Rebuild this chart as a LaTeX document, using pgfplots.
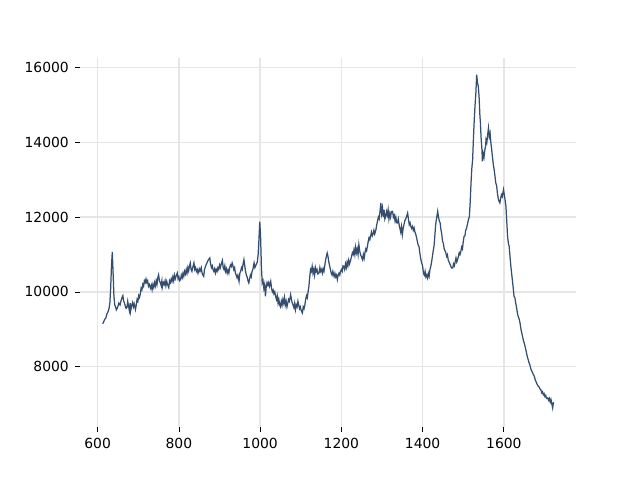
\documentclass[border=0pt]{standalone}
\usepackage{pgfplots}
\pgfplotsset{compat=1.18}
\usepackage{fontspec}
\setmainfont{DejaVu Sans}
\definecolor{linec}{HTML}{344E70}
\definecolor{gridc}{HTML}{E6E6E6}
\begin{document}
\begin{tikzpicture}
\path[use as bounding box] (0,0) rectangle (460.8pt,345.6pt);
\begin{axis}[
  at={(57.6pt,38.02pt)}, anchor=south west,
  scale only axis, width=357.12pt, height=266.1pt,
  xmin=556.5, xmax=1777.5, ymin=6380, ymax=16270,
  xtick={600,800,...,1600}, ytick={8000,10000,...,16000},
  scaled ticks=false,
  axis line style={draw=none},
  tick align=outside, xtick pos=bottom, ytick pos=left,
  major tick length=3.5pt,
  tick style={black, line width=0.6pt},
  grid=major, major grid style={gridc, line width=1pt},
  ticklabel style={font=\fontsize{10}{12}\selectfont},
  /pgf/number format/1000 sep={},
  /pgf/number format/assume math mode=true,
  xticklabel style={yshift=-1pt}, yticklabel style={xshift=-1pt},
]
\addplot[linec, line width=0.9pt, mark=none] coordinates {
(612,9150)(614,9180)(617,9260)(620,9300)(623,9420)(626,9480)(628,9560)(630,9700)(632,10100)(634,10700)(636,11070)(638,10500)(640,9900)(642,9650)(644,9600)(646,9520)(648,9560)(650,9620)(652,9700)(655,9650)(658,9780)(660,9850)(662,9900)(664,9760)(666,9700)(668,9620)(670,9560)(672,9580)(674,9750)(676,9620)(678,9500)(680,9700)(681,9480)(684,9650)(686,9720)(688,9600)(690,9680)(693,9530)(695,9650)(697,9800)(699,9750)
(701,9900)(703,9850)(705,9950)(707,10100)(709,10060)(711,10200)(713,10150)(715,10300)(717,10250)(719,10345)(721,10250)(723,10300)(725,10150)(727,10200)(730,10100)(732,10180)(734,10060)(736,10200)(738,10120)(740,10250)(742,10160)(744,10300)(746,10200)(748,10380)(750,10460)(752,10300)(754,10250)(756,10180)(758,10300)(759,10115)(762,10250)(764,10200)(766,10300)(768,10160)(770,10280)(772,10200)(775,10115)(777,10300)(779,10250)(781,10350)(783,10280)(785,10400)(787,10300)(789,10450)(791,10350)(793,10420)(796,10507)(798,10350)
(800,10400)(802,10300)(804,10330)(806,10450)(808,10380)(810,10500)(812,10416)(814,10550)(816,10480)(818,10600)(820,10500)(822,10650)(824,10560)(826,10700)(828,10775)(830,10600)(832,10550)(834,10650)(837,10775)(839,10600)(841,10650)(843,10550)(845,10600)(847,10500)(850,10620)(852,10550)(855,10650)(857,10500)(859,10450)(861,10416)(863,10600)(866,10700)(868,10750)(870,10800)(872,10850)(874,10880)(876,10910)(878,10750)(880,10650)(882,10700)(884,10600)(886,10550)(888,10620)(890,10507)(892,10600)(894,10550)(896,10650)(898,10600)
(900,10720)(902,10650)(905,10780)(907,10845)(909,10650)(911,10600)(913,10700)(915,10550)(917,10620)(919,10500)(921,10580)(923,10507)(925,10650)(927,10720)(929,10680)(931,10775)(933,10700)(935,10600)(937,10650)(939,10500)(941,10450)(943,10380)(945,10450)(948,10283)(950,10500)(952,10550)(954,10650)(956,10600)(958,10750)(960,10863)(962,10700)(964,10550)(966,10450)(968,10400)(970,10300)(972,10240)(974,10350)(976,10450)(978,10400)(980,10550)(982,10600)(985,10775)(987,10650)(989,10700)(991,10750)(993,10800)(995,11000)(997,11400)(999,11880)
(1001,11500)(1003,10700)(1005,10240)(1007,10300)(1009,10100)(1011,10200)(1013,9880)(1015,10150)(1017,10250)(1019,10180)(1021,10250)(1023,10150)(1026,10283)(1028,10100)(1030,10000)(1032,10050)(1034,9950)(1036,10000)(1038,9880)(1040,9800)(1042,9900)(1044,9700)(1046,9800)(1048,9650)(1050,9600)(1052,9750)(1054,9650)(1056,9800)(1058,9700)(1060,9850)(1062,9650)(1064,9750)(1066,9600)(1068,9700)(1070,9800)(1072,9750)(1075,9927)(1077,9800)(1079,9700)(1081,9650)(1083,9580)(1085,9700)(1087,9525)(1089,9650)(1091,9600)(1093,9750)(1095,9650)(1097,9550)(1099,9600)
(1101,9500)(1104,9437)(1106,9600)(1108,9550)(1110,9650)(1112,9800)(1114,9900)(1116,9840)(1118,10000)(1120,10150)(1122,10400)(1124,10600)(1126,10550)(1128,10684)(1130,10500)(1132,10600)(1134,10450)(1136,10650)(1138,10550)(1140,10600)(1142,10480)(1145,10507)(1147,10650)(1149,10550)(1151,10600)(1153,10500)(1155,10620)(1157,10550)(1159,10700)(1161,10850)(1163,10950)(1165,11043)(1167,10950)(1169,10800)(1171,10700)(1173,10600)(1175,10500)(1177,10450)(1179,10550)(1182,10416)(1184,10500)(1186,10400)(1188,10450)(1190,10330)(1192,10450)(1194,10500)(1196,10450)(1198,10550)
(1200,10600)(1202,10550)(1204,10700)(1206,10684)(1208,10600)(1210,10750)(1212,10650)(1214,10800)(1216,10700)(1218,10850)(1220,10750)(1223,10863)(1225,10950)(1227,11050)(1229,11000)(1231,11130)(1233,11000)(1235,11200)(1237,11050)(1239,11150)(1241,11000)(1243,11265)(1245,11100)(1247,11000)(1249,10950)(1252,10863)(1254,11000)(1256,10900)(1258,11050)(1260,11150)(1262,11100)(1264,11220)(1266,11350)(1268,11450)(1270,11400)(1272,11500)(1274,11600)(1276,11500)(1278,11550)(1280,11650)(1282,11550)(1285,11666)(1287,11800)(1289,11900)(1291,12000)(1293,11950)(1295,12150)(1297,12380)(1299,12100)
(1301,12250)(1303,12000)(1305,12200)(1307,11950)(1309,12022)(1311,12150)(1313,12050)(1315,12200)(1317,11950)(1319,12100)(1321,12000)(1323,12150)(1326,12156)(1328,12000)(1330,12050)(1332,11900)(1334,12000)(1336,11850)(1338,11845)(1340,11950)(1342,11800)(1344,11700)(1346,11600)(1348,11750)(1350,11532)(1352,11700)(1354,11800)(1356,11900)(1358,11950)(1360,12000)(1363,12112)(1365,11950)(1367,11800)(1369,11850)(1371,11750)(1373,11700)(1375,11750)(1377,11650)(1379,11711)(1381,11600)(1383,11550)(1385,11450)(1387,11350)(1389,11250)(1391,11220)(1393,11050)(1395,10900)(1397,10800)
(1400,10684)(1402,10500)(1404,10450)(1406,10550)(1408,10400)(1410,10450)(1412,10373)(1414,10500)(1416,10420)(1418,10600)(1420,10684)(1422,10800)(1424,10950)(1426,11100)(1428,11220)(1430,11500)(1432,11800)(1434,11950)(1437,12156)(1439,12000)(1441,11900)(1443,11850)(1445,11666)(1447,11550)(1449,11353)(1451,11300)(1453,11150)(1455,11100)(1457,11050)(1459,10950)(1461,10997)(1463,10850)(1465,10800)(1467,10750)(1469,10700)(1471,10640)(1474,10640)(1476,10750)(1478,10700)(1480,10800)(1482,10908)(1484,10800)(1486,10863)(1488,10950)(1490,11050)(1492,11000)(1494,11085)(1496,11200)(1498,11150)
(1500,11350)(1502,11487)(1504,11500)(1506,11650)(1508,11700)(1510,11800)(1512,11900)(1515,12022)(1517,12400)(1519,12900)(1521,13300)(1523,13539)(1525,14100)(1527,14600)(1529,15000)(1531,15324)(1533,15814)(1535,15600)(1537,15500)(1539,15200)(1541,14700)(1542,14564)(1544,14100)(1546,13800)(1547,13493)(1549,13700)(1551,13600)(1553,13800)(1555,13900)(1556,14075)(1558,14000)(1560,14200)(1562,14388)(1564,14150)(1566,14250)(1568,13987)(1570,13800)(1572,13600)(1574,13400)(1576,13272)(1578,13100)(1580,12916)(1582,12850)(1584,12648)(1586,12500)(1588,12424)(1590,12380)(1592,12500)(1594,12600)(1596,12550)(1599,12737)
(1601,12600)(1603,12450)(1605,12290)(1607,11900)(1609,11487)(1611,11300)(1613,11220)(1615,10950)(1617,10700)(1619,10500)(1621,10300)(1623,10100)(1625,9880)(1627,9850)(1629,9700)(1631,9600)(1633,9450)(1635,9350)(1638,9258)(1640,9150)(1642,9000)(1644,8900)(1646,8800)(1648,8700)(1650,8634)(1652,8550)(1654,8450)(1656,8350)(1658,8250)(1660,8180)(1662,8099)(1664,8050)(1666,7950)(1668,7900)(1670,7850)(1672,7800)(1675,7740)(1677,7650)(1679,7600)(1681,7550)(1683,7500)(1685,7480)(1687,7450)(1689,7400)(1691,7384)(1693,7300)(1695,7330)(1697,7250)(1699,7280)
(1701,7200)(1703,7230)(1705,7150)(1708,7162)(1710,7100)(1712,7150)(1714,7050)(1716,7117)(1718,7000)(1720,6895)(1722,7050)
};
\end{axis}
\end{tikzpicture}
\end{document}
